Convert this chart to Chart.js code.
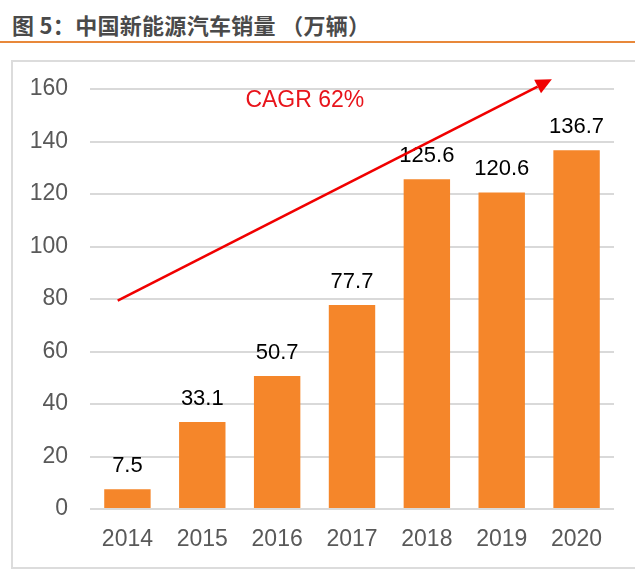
<!DOCTYPE html>
<html>
<head>
<meta charset="utf-8">
<script src="https://cdn.jsdelivr.net/npm/chart.js@4.4.1/dist/chart.umd.min.js"></script>
<style>
  html, body { margin: 0; padding: 0; background: #fff; width: 635px; height: 576px; overflow: hidden; }
  #title {
    position: absolute; left: 12px; top: 8px;
    font: bold 22px "Noto Sans CJK SC", sans-serif; color: #4a4a4a;
    letter-spacing: 0.3px; white-space: nowrap;
  }
  #rule { position: absolute; left: 0; top: 41px; width: 635px; height: 2px; background: #E8883A; }
  #frame { position: absolute; left: 11px; top: 60px; width: 640px; height: 505px; border: 2px solid #dcdcdc; }
  #chart { position: absolute; left: 0; top: 0; }
</style>
</head>
<body>
<div id="title">图 5：中国新能源汽车销量 （万辆）</div>
<div id="rule"></div>
<div id="frame"></div>
<canvas id="chart" width="635" height="576"></canvas>
<script>
// 中国新能源汽车销量（万辆）
const years = ["2014", "2015", "2016", "2017", "2018", "2019", "2020"];
const sales = [7.5, 33.1, 50.7, 77.7, 125.6, 120.6, 136.7];
const yTicks = [0, 20, 40, 60, 80, 100, 120, 140, 160];

// CAGR arrow, in data units (category index, value)
const cagrLabel = "CAGR 62%";
const cagrFrom = [-0.13, 79.4];
const cagrTo = [5.67, 163.7];
const cagrTextAt = [2.37, 155.4];

const labelsPlugin = {
  id: "barLabels",
  afterDatasetsDraw(chart) {
    const ctx = chart.ctx;
    const meta = chart.getDatasetMeta(0);
    ctx.save();
    ctx.font = '22px "Liberation Sans", Arial, sans-serif';
    ctx.fillStyle = "#000";
    ctx.textAlign = "center";
    ctx.textBaseline = "alphabetic";
    meta.data.forEach((bar, i) => {
      ctx.fillText(sales[i].toFixed(1), bar.x, bar.y - 17);
    });
    ctx.restore();
  }
};

const arrowPlugin = {
  id: "cagrArrow",
  afterDatasetsDraw(chart) {
    const ctx = chart.ctx;
    const xs = chart.scales.x, ys = chart.scales.y;
    const x1 = xs.getPixelForValue(cagrFrom[0]), y1 = ys.getPixelForValue(cagrFrom[1]);
    const x2 = xs.getPixelForValue(cagrTo[0]), y2 = ys.getPixelForValue(cagrTo[1]);
    const ang = Math.atan2(y2 - y1, x2 - x1);
    const headLen = 16, headW = 7.5;
    const bx = x2 - headLen * Math.cos(ang), by = y2 - headLen * Math.sin(ang);
    ctx.save();
    ctx.strokeStyle = "#F00000";
    ctx.fillStyle = "#F00000";
    ctx.lineWidth = 2.6;
    ctx.beginPath();
    ctx.moveTo(x1, y1);
    ctx.lineTo(bx, by);
    ctx.stroke();
    ctx.beginPath();
    ctx.moveTo(x2, y2);
    ctx.lineTo(bx + headW * Math.sin(ang), by - headW * Math.cos(ang));
    ctx.lineTo(bx - headW * Math.sin(ang), by + headW * Math.cos(ang));
    ctx.closePath();
    ctx.fill();
    // label
    ctx.font = '23px "Liberation Sans", Arial, sans-serif';
    ctx.fillStyle = "#E8141B";
    ctx.textAlign = "center";
    ctx.textBaseline = "middle";
    ctx.fillText(cagrLabel, xs.getPixelForValue(cagrTextAt[0]), ys.getPixelForValue(cagrTextAt[1]));
    ctx.restore();
  }
};

new Chart(document.getElementById("chart"), {
  type: "bar",
  data: {
    labels: years,
    datasets: [{
      data: sales,
      backgroundColor: "#F5862A",
      borderWidth: 0,
      categoryPercentage: 1,
      barPercentage: 0.62
    }]
  },
  options: {
    responsive: false,
    animation: false,
    events: [],
    layout: { padding: { top: 89, right: 21, bottom: 17, left: 0 } },
    plugins: { legend: { display: false }, tooltip: { enabled: false } },
    scales: {
      x: {
        grid: { display: false, drawTicks: false },
        border: { display: false },
        ticks: {
          color: "#595959",
          padding: 17,
          font: { family: '"Liberation Sans", Arial, sans-serif', size: 23 }
        },
        afterFit(scale) { scale.height = 50; }
      },
      y: {
        min: yTicks[0],
        max: yTicks[yTicks.length - 1],
        afterBuildTicks(scale) { scale.ticks = yTicks.map(v => ({ value: v })); },
        grid: { color: "#d9d9d9", lineWidth: 2, drawTicks: false },
        border: { display: false },
        ticks: {
          color: "#595959",
          padding: 22,
          font: { family: '"Liberation Sans", Arial, sans-serif', size: 23 }
        },
        afterFit(scale) { scale.width = 90; }
      }
    }
  },
  plugins: [labelsPlugin, arrowPlugin]
});
</script>
</body>
</html>
